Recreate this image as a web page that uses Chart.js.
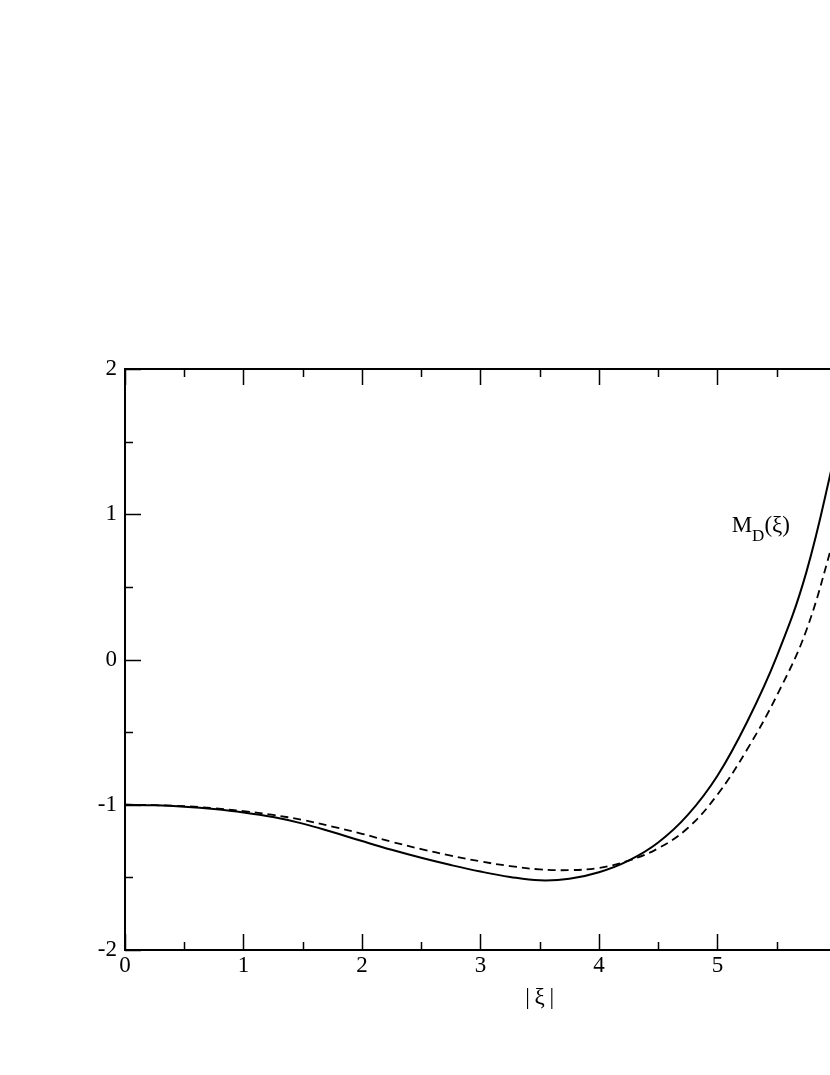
<!DOCTYPE html>
<html>
<head>
<meta charset="utf-8">
<title>M_D(xi)</title>
<script src="https://cdn.jsdelivr.net/npm/chart.js@4.4.1/dist/chart.umd.min.js"></script>
<style>
  html, body { margin: 0; padding: 0; background: #fff; }
  #wrap { width: 830px; height: 1075px; position: relative; }
</style>
</head>
<body>
<div id="wrap"><canvas id="chart_MD"></canvas></div>
<script>
// values
var xiValues = [0, 0.25, 0.5, 0.75, 1, 1.25, 1.5, 1.75, 2, 2.25, 2.5, 2.75, 3, 3.25, 3.5, 3.75, 4, 4.25, 4.5, 4.75, 5, 5.25, 5.5, 5.75, 6];
var solidValues = [-1.000, -1.004, -1.014, -1.030, -1.053, -1.085, -1.13, -1.188, -1.25, -1.31, -1.365, -1.415, -1.46, -1.497, -1.52, -1.51, -1.465, -1.385, -1.26, -1.07, -0.80, -0.43, 0.02, 0.60, 1.44];
var dashedValues = [-1.000, -1.003, -1.010, -1.024, -1.044, -1.07, -1.105, -1.15, -1.20, -1.255, -1.305, -1.35, -1.39, -1.422, -1.445, -1.45, -1.435, -1.385, -1.30, -1.16, -0.93, -0.62, -0.25, 0.20, 0.88];

var xTicks = [0, 1, 2, 3, 4, 5];
var yTicks = [-2, -1, 0, 1, 2];

var xMin = 0;
var xMax = 5.95;
var yMin = -2;
var yMax = 2;

var serif = "'Liberation Serif', 'DejaVu Serif', serif";

function toPoints(xs, ys) {
  var pts = [];
  for (var i = 0; i < xs.length; i++) {
    pts.push({ x: xs[i], y: ys[i] });
  }
  return pts;
}

// frame, inward ticks and the two text labels
var framePlugin = {
  id: 'frame',
  afterDraw: function (chart) {
    var ctx = chart.ctx;
    var a = chart.chartArea;
    var xs = chart.scales.x;
    var ys = chart.scales.y;
    ctx.save();
    ctx.strokeStyle = '#000';
    ctx.lineWidth = 2;
    ctx.beginPath();
    ctx.moveTo(a.left, a.top); ctx.lineTo(a.right + 2, a.top);
    ctx.moveTo(a.left, a.bottom); ctx.lineTo(a.right + 2, a.bottom);
    ctx.moveTo(a.left, a.top - 1); ctx.lineTo(a.left, a.bottom + 1);
    ctx.stroke();

    ctx.lineWidth = 1.5;
    ctx.beginPath();
    for (var v = xMin; v <= xMax; v += 0.5) {
      var px = Math.round(xs.getPixelForValue(v)) + 0.5;
      var len = (v % 1 === 0) ? 16 : 8;
      ctx.moveTo(px, a.bottom); ctx.lineTo(px, a.bottom - len);
      ctx.moveTo(px, a.top); ctx.lineTo(px, a.top + len);
    }
    for (var w = yMin; w <= yMax; w += 0.5) {
      var py = Math.round(ys.getPixelForValue(w)) + 0.5;
      var l2 = (w % 1 === 0) ? 16 : 8;
      ctx.moveTo(a.left, py); ctx.lineTo(a.left + l2, py);
    }
    ctx.stroke();

    // axis title
    ctx.fillStyle = '#000';
    ctx.font = '23px ' + serif;
    ctx.textAlign = 'center';
    ctx.textBaseline = 'middle';
    ctx.fillText('|\u2009\u03BE\u2009|', xs.getPixelForValue(3.5), a.bottom + 48);

    // curve label
    var lx = xs.getPixelForValue(5.12);
    var ly = ys.getPixelForValue(0.92);
    ctx.textAlign = 'left';
    ctx.textBaseline = 'alphabetic';
    ctx.font = '23px ' + serif;
    ctx.fillText('M', lx, ly + 6);
    var mw = ctx.measureText('M').width;
    ctx.font = '17px ' + serif;
    ctx.fillText('D', lx + mw, ly + 15);
    var dw = ctx.measureText('D').width;
    ctx.font = '23px ' + serif;
    ctx.fillText('(\u03BE)', lx + mw + dw, ly + 6);
    ctx.restore();
  }
};

var ctxMD = document.getElementById('chart_MD').getContext('2d');

var configMD = {
  type: 'line',
  data: {
    datasets: [
      {
        label: 'solid',
        data: toPoints(xiValues, solidValues),
        borderColor: '#000',
        borderWidth: 2,
        pointRadius: 0,
        fill: false,
        tension: 0.4
      },
      {
        label: 'dashed',
        data: toPoints(xiValues, dashedValues),
        borderColor: '#000',
        borderWidth: 1.8,
        borderDash: [8, 5],
        pointRadius: 0,
        fill: false,
        tension: 0.4
      }
    ]
  },
  options: {
    responsive: true,
    maintainAspectRatio: false,
    animation: false,
    layout: { padding: { top: 369, right: 0, left: 0, bottom: 85 } },
    plugins: { legend: { display: false }, tooltip: { enabled: false } },
    scales: {
      x: {
        type: 'linear',
        min: xMin,
        max: xMax,
        grid: { display: false, drawTicks: false },
        border: { display: false },
        afterFit: function (s) { s.height = 40; },
        afterBuildTicks: function (s) {
          s.ticks = xTicks.map(function (v) { return { value: v }; });
        },
        ticks: {
          color: '#000',
          padding: 2,
          maxRotation: 0,
          font: { family: serif, size: 23 },
          callback: function (v) { return String(v); }
        }
      },
      y: {
        type: 'linear',
        min: yMin,
        max: yMax,
        grid: { display: false, drawTicks: false },
        border: { display: false },
        afterFit: function (s) { s.width = 125; },
        afterBuildTicks: function (s) {
          s.ticks = yTicks.map(function (v) { return { value: v }; });
        },
        ticks: {
          color: '#000',
          padding: 8,
          font: { family: serif, size: 23 },
          callback: function (v) { return String(v); }
        }
      }
    }
  },
  plugins: [framePlugin]
};

var ChartMD = new Chart(ctxMD, configMD);
</script>
</body>
</html>
